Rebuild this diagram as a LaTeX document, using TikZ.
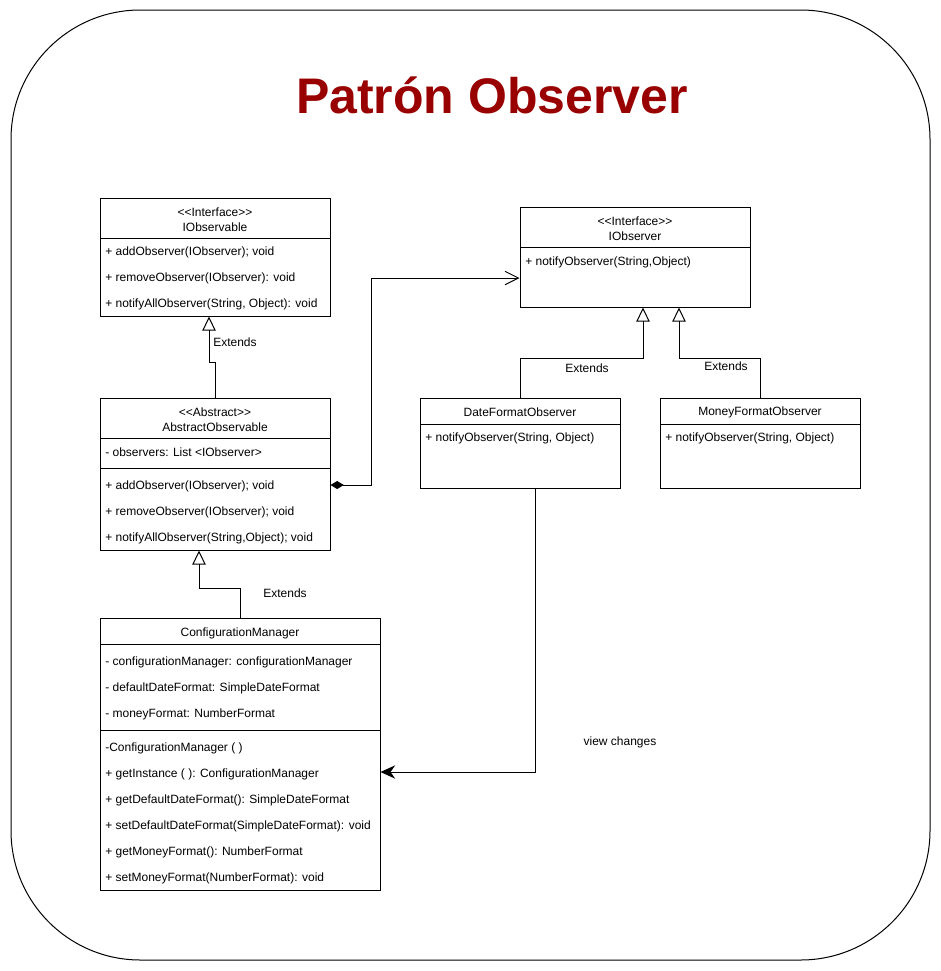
\documentclass[tikz,border=0pt]{standalone}
\usepackage{fontspec}
\setmainfont{Liberation Sans}
\usepackage{tikz}
\usetikzlibrary{positioning,fit,arrows.meta}
\definecolor{titlered}{HTML}{990000}
\newcommand{\stereo}[1]{\textless\kern0pt\textless#1\textgreater\kern0pt\textgreater}
\tikzstyle{inherit} = [line width=0.75pt, -{Triangle[open, length=10.5pt, width=10pt]}]
\tikzstyle{compose} = [line width=0.75pt, {Diamond[length=10pt, width=6pt]}-{Straight Barb[length=10pt, width=10pt]}]
\tikzstyle{uses} = [line width=0.75pt, -{Stealth[length=11pt, width=10pt, inset=3.5pt]}]

\begin{document}
\begin{tikzpicture}[
		x=0.75pt, y=-0.75pt,
		classbox/.style={
				rectangle,
				draw=black,
				line width=0.75pt,
				inner sep=0pt,
			},
		head/.style={
				align=center,
				inner sep=0pt,
				yshift=-1pt,
				font=\fontsize{9}{11.25}\selectfont,
			},
		member/.style={
				anchor=west,
				inner sep=0pt,
				yshift=-1.2pt,
				font=\fontsize{9}{11}\selectfont,
			},
		sep/.style={line width=0.75pt},
		note/.style={inner sep=0pt, yshift=-1pt, font=\fontsize{9}{11}\selectfont},
	]
	\useasboundingbox (0,0) rectangle (941,971);

	% frame and title
	\draw[line width=0.75pt, rounded corners=97pt] (11,10) rectangle (930,960);
	\node[font=\fontsize{37.5}{40}\selectfont\bfseries, text=titlered] (title) at (492,95) {Patrón Observer};

	% IObservable interface
	\node[classbox, fit={(100,198) (330,316)}] (iobservable) {};
	\node[head] (iobservable-h) at (215,218.5) {\stereo{Interface}\\IObservable};
	\draw[sep] (100,238) -- (330,238);
	\node[member] (iobservable-m1) at (105,251) {+ addObserver(IObserver); void};
	\node[member] (iobservable-m2) at (105,277) {+ removeObserver(IObserver): void};
	\node[member] (iobservable-m3) at (105,303) {+ notifyAllObserver(String, Object): void};

	% AbstractObservable class
	\node[classbox, fit={(100,398) (330,550)}] (absobs) {};
	\node[head] (absobs-h) at (215,418.5) {\stereo{Abstract}\\AbstractObservable};
	\draw[sep] (100,438) -- (330,438);
	\node[member] (absobs-a1) at (105,451) {- observers: List \textless IObserver\textgreater};
	\draw[sep] (100,468) -- (330,468);
	\node[member] (absobs-m1) at (105,485) {+ addObserver(IObserver); void};
	\node[member] (absobs-m2) at (105,511) {+ removeObserver(IObserver); void};
	\node[member] (absobs-m3) at (105,537) {+ notifyAllObserver(String,Object); void};

	% IObserver interface
	\node[classbox, fit={(520,207) (750,307)}] (iobserver) {};
	\node[head] (iobserver-h) at (635,227.5) {\stereo{Interface}\\IObserver};
	\draw[sep] (520,247) -- (750,247);
	\node[member] (iobserver-m1) at (525,261) {+ notifyObserver(String,Object)};

	% DateFormatObserver class
	\node[classbox, fit={(420,398) (620,488)}] (datefmt) {};
	\node[head] (datefmt-h) at (520,411) {DateFormatObserver};
	\draw[sep] (420,424) -- (620,424);
	\node[member] (datefmt-m1) at (425,437) {+ notifyObserver(String, Object)};

	% MoneyFormatObserver class
	\node[classbox, fit={(660,398) (860,488)}] (moneyfmt) {};
	\node[head] (moneyfmt-h) at (760,411) {MoneyFormatObserver};
	\draw[sep] (660,424) -- (860,424);
	\node[member] (moneyfmt-m1) at (665,437) {+ notifyObserver(String, Object)};

	% ConfigurationManager class
	\node[classbox, fit={(100,618) (380,890)}] (config) {};
	\node[head] (config-h) at (240,632) {ConfigurationManager};
	\draw[sep] (100,644) -- (380,644);
	\node[member] (config-a1) at (105,661) {- configurationManager: configurationManager};
	\node[member] (config-a2) at (105,687) {- defaultDateFormat: SimpleDateFormat};
	\node[member] (config-a3) at (105,713) {- moneyFormat: NumberFormat};
	\draw[sep] (100,730) -- (380,730);
	\node[member] (config-m1) at (105,747) {-ConfigurationManager ( )};
	\node[member] (config-m2) at (105,773) {+ getInstance ( ): ConfigurationManager};
	\node[member] (config-m3) at (105,799) {+ getDefaultDateFormat(): SimpleDateFormat};
	\node[member] (config-m4) at (105,825) {+ setDefaultDateFormat(SimpleDateFormat): void};
	\node[member] (config-m5) at (105,851) {+ getMoneyFormat(): NumberFormat};
	\node[member] (config-m6) at (105,877) {+ setMoneyFormat(NumberFormat): void};

	% Connections
	\draw[inherit] (absobs.north) -- (215,362) -- (209,362) -- (iobservable.south -| 209,0);
	\node[note, anchor=west] (ext1) at (213,341) {Extends};
	\draw[inherit] (config.north) -- (240,588) -- (199,588) -- (absobs.south -| 199,0);
	\node[note] (ext2) at (285,592) {Extends};
	\draw[inherit] (datefmt.north) -- (520,358) -- (643,358) -- (iobserver.south -| 643,0);
	\node[note] (ext3) at (587,367) {Extends};
	\draw[inherit] (moneyfmt.north) -- (760,358) -- (679,358) -- (iobserver.south -| 679,0);
	\node[note] (ext4) at (726,365) {Extends};
	\draw[compose] (absobs.east |- 0,485) -- (371,485) -- (371,278) -- (iobserver.west |- 0,278);
	\draw[uses] (datefmt.south -| 535,0) -- (535,772) -- (config.east |- 0,772);
	\node[note] (viewch) at (620,741) {view changes};
\end{tikzpicture}
\end{document}
